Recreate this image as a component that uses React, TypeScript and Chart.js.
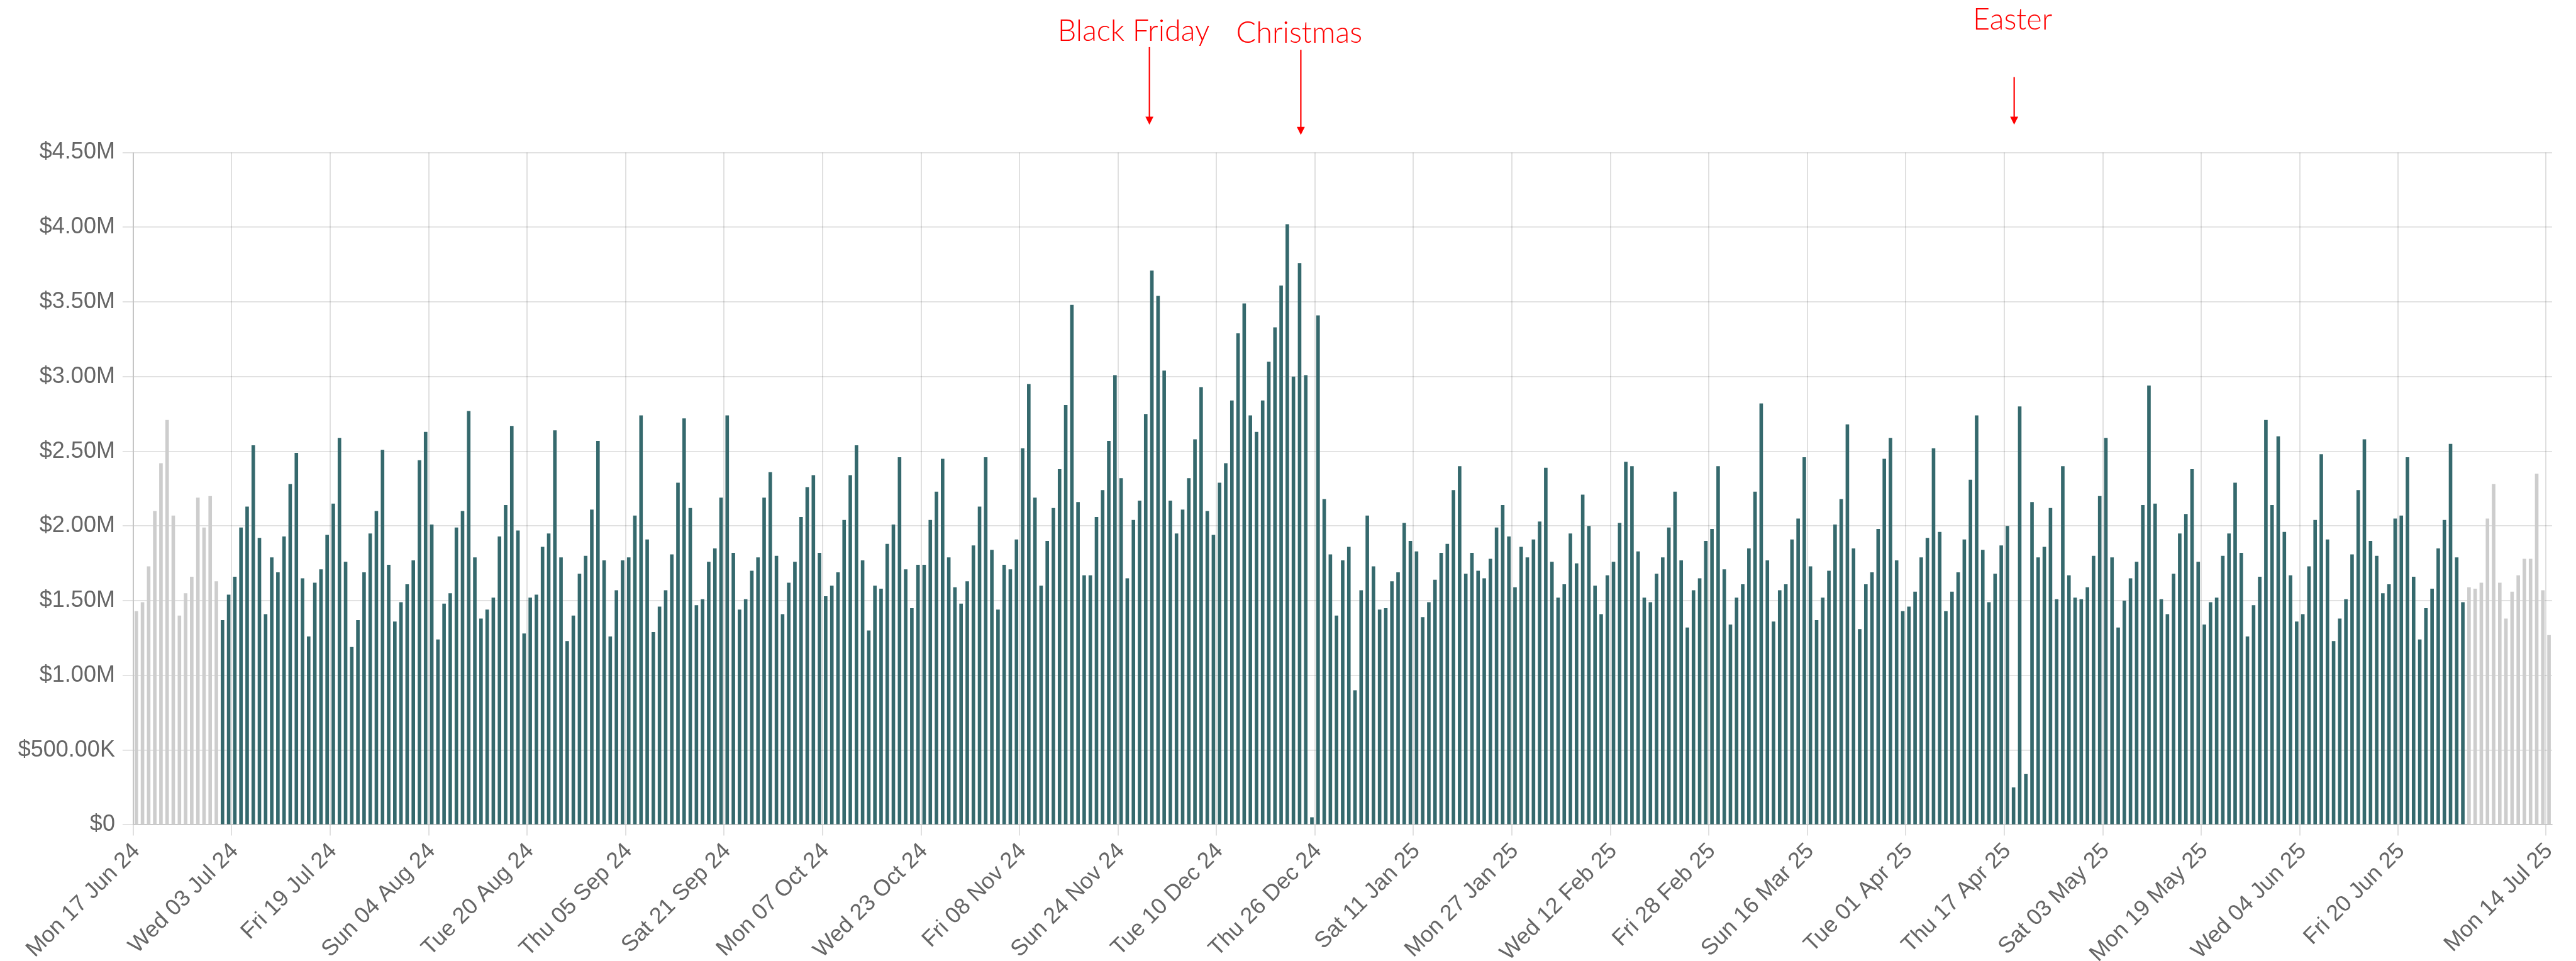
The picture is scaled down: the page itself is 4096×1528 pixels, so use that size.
import React, { useEffect, useRef } from "react";
import { Chart, registerables } from "chart.js";

Chart.register(...registerables);

const WIDTH = 4096;
const HEIGHT = 1528;
const S = 0.851;

// Daily sales in $ millions, one value per day starting Mon 17 Jun 2024 (rows = weeks Mon..Sun)
const dailySalesMillions: number[] = [
  1.43, 1.49, 1.73, 2.10, 2.42, 2.71, 2.07,
  1.40, 1.55, 1.66, 2.19, 1.99, 2.20, 1.63,
  1.37, 1.54, 1.66, 1.99, 2.13, 2.54, 1.92,
  1.41, 1.79, 1.69, 1.93, 2.28, 2.49, 1.65,
  1.26, 1.62, 1.71, 1.94, 2.15, 2.59, 1.76,
  1.19, 1.37, 1.69, 1.95, 2.10, 2.51, 1.74,
  1.36, 1.49, 1.61, 1.77, 2.44, 2.63, 2.01,
  1.24, 1.48, 1.55, 1.99, 2.10, 2.77, 1.79,
  1.38, 1.44, 1.52, 1.93, 2.14, 2.67, 1.97,
  1.28, 1.52, 1.54, 1.86, 1.95, 2.64, 1.79,
  1.23, 1.40, 1.68, 1.80, 2.11, 2.57, 1.77,
  1.26, 1.57, 1.77, 1.79, 2.07, 2.74, 1.91,
  1.29, 1.46, 1.57, 1.81, 2.29, 2.72, 2.12,
  1.47, 1.51, 1.76, 1.85, 2.19, 2.74, 1.82,
  1.44, 1.51, 1.70, 1.79, 2.19, 2.36, 1.80,
  1.41, 1.62, 1.76, 2.06, 2.26, 2.34, 1.82,
  1.53, 1.60, 1.69, 2.04, 2.34, 2.54, 1.77,
  1.30, 1.60, 1.58, 1.88, 2.01, 2.46, 1.71,
  1.45, 1.74, 1.74, 2.04, 2.23, 2.45, 1.79,
  1.59, 1.48, 1.63, 1.87, 2.13, 2.46, 1.84,
  1.44, 1.74, 1.71, 1.91, 2.52, 2.95, 2.19,
  1.60, 1.90, 2.12, 2.38, 2.81, 3.48, 2.16,
  1.67, 1.67, 2.06, 2.24, 2.57, 3.01, 2.32,
  1.65, 2.04, 2.17, 2.75, 3.71, 3.54, 3.04,
  2.17, 1.95, 2.11, 2.32, 2.58, 2.93, 2.10,
  1.94, 2.29, 2.42, 2.84, 3.29, 3.49, 2.74,
  2.63, 2.84, 3.10, 3.33, 3.61, 4.02, 3.00,
  3.76, 3.01, 0.05, 3.41, 2.18, 1.81, 1.40,
  1.77, 1.86, 0.90, 1.57, 2.07, 1.73, 1.44,
  1.45, 1.63, 1.69, 2.02, 1.90, 1.83, 1.39,
  1.49, 1.64, 1.82, 1.88, 2.24, 2.40, 1.68,
  1.82, 1.70, 1.65, 1.78, 1.99, 2.14, 1.93,
  1.59, 1.86, 1.79, 1.91, 2.03, 2.39, 1.76,
  1.52, 1.61, 1.95, 1.75, 2.21, 2.00, 1.60,
  1.41, 1.67, 1.76, 2.02, 2.43, 2.40, 1.83,
  1.52, 1.49, 1.68, 1.79, 1.99, 2.23, 1.77,
  1.32, 1.57, 1.65, 1.90, 1.98, 2.40, 1.71,
  1.34, 1.52, 1.61, 1.85, 2.23, 2.82, 1.77,
  1.36, 1.57, 1.61, 1.91, 2.05, 2.46, 1.73,
  1.37, 1.52, 1.70, 2.01, 2.18, 2.68, 1.85,
  1.31, 1.61, 1.69, 1.98, 2.45, 2.59, 1.77,
  1.43, 1.46, 1.56, 1.79, 1.92, 2.52, 1.96,
  1.43, 1.56, 1.69, 1.91, 2.31, 2.74, 1.84,
  1.49, 1.68, 1.87, 2.00, 0.25, 2.80, 0.34,
  2.16, 1.79, 1.86, 2.12, 1.51, 2.40, 1.67,
  1.52, 1.51, 1.59, 1.80, 2.20, 2.59, 1.79,
  1.32, 1.50, 1.65, 1.76, 2.14, 2.94, 2.15,
  1.51, 1.41, 1.68, 1.95, 2.08, 2.38, 1.76,
  1.34, 1.49, 1.52, 1.80, 1.95, 2.29, 1.82,
  1.26, 1.47, 1.66, 2.71, 2.14, 2.60, 1.96,
  1.67, 1.36, 1.41, 1.73, 2.04, 2.48, 1.91,
  1.23, 1.38, 1.51, 1.81, 2.24, 2.58, 1.90,
  1.80, 1.55, 1.61, 2.05, 2.07, 2.46, 1.66,
  1.24, 1.45, 1.58, 1.85, 2.04, 2.55, 1.79,
  1.49, 1.59, 1.58, 1.62, 2.05, 2.28, 1.62,
  1.38, 1.56, 1.67, 1.78, 1.78, 2.35, 1.57,
  1.27,
];

const startYear = 2024;
const startMonthIndex = 5; // June
const startDay = 17;
const weekdayNames = ["Sun", "Mon", "Tue", "Wed", "Thu", "Fri", "Sat"];
const monthNames = ["Jan", "Feb", "Mar", "Apr", "May", "Jun", "Jul", "Aug", "Sep", "Oct", "Nov", "Dec"];

// highlighted financial year (teal); the rest is grey
const periodStart = "Mon 01 Jul 24";
const periodEnd = "Mon 30 Jun 25";

const tickEvery = 16;

const yMin = 0;
const yMax = 4500000;
const yStep = 500000;

const annotationTexts = ["Black Friday", "Christmas", "Easter"];
const annotationDates = ["Fri 29 Nov 24", "Wed 25 Dec 24", "Sun 20 Apr 25"];
const annotationShiftDays = [-0.4, -1.8, -1.9];

const TEAL = "#35696d";
const GREY = "#cdcdcd";
const GRID = "rgba(0,0,0,0.12)";
const TICK_COLOR = "#666666";
const TICK_FONT = "'Liberation Sans', Arial, Helvetica, sans-serif";

const labels: string[] = dailySalesMillions.map((_, i) => {
  const d = new Date(Date.UTC(startYear, startMonthIndex, startDay + i));
  const dd = String(d.getUTCDate()).padStart(2, "0");
  const yy = String(d.getUTCFullYear()).slice(2);
  return `${weekdayNames[d.getUTCDay()]} ${dd} ${monthNames[d.getUTCMonth()]} ${yy}`;
});

const lastIndex = labels.length - 1;
const isShownTick = (i: number) =>
  i === lastIndex || (i % tickEvery === 0 && lastIndex - i >= tickEvery);

const startIdx = labels.indexOf(periodStart);
const endIdx = labels.indexOf(periodEnd);
const barColors = labels.map((_, i) => (i >= startIdx && i <= endIdx ? TEAL : GREY));

const formatMoney = (v: number) => {
  if (v === 0) return "$0";
  if (v >= 1000000) return "$" + (v / 1000000).toFixed(2) + "M";
  return "$" + (v / 1000).toFixed(2) + "K";
};

// annotation layout (output pixels)
const annotationLayout = [
  { textDx: -25, baseline: 76 * S, arrowTop: 88 * S, arrowTip: 233 * S },
  { textDx: -3 * S, baseline: 80 * S, arrowTop: 93 * S, arrowTip: 252 * S },
  { textDx: -3 * S, baseline: 55 * S, arrowTop: 144 * S, arrowTip: 233 * S },
];

const annotationPlugin = {
  id: "eventAnnotations",
  afterDraw(chart: any) {
    const ctx: CanvasRenderingContext2D = chart.ctx;
    const xs = chart.scales.x;
    const headW = 15 * S;
    const headH = 15 * S;
    ctx.save();
    ctx.fillStyle = "#ff0000";
    ctx.strokeStyle = "#ff0000";
    ctx.font = `300 ${55 * S}px Lato, 'Open Sans', sans-serif`;
    ctx.textAlign = "center";
    ctx.textBaseline = "alphabetic";
    annotationTexts.forEach((text, k) => {
      const idx = labels.indexOf(annotationDates[k]);
      const L = annotationLayout[k];
      const x = xs.getPixelForValue(idx + annotationShiftDays[k]);
      ctx.fillText(text, x + L.textDx, L.baseline);
      ctx.lineWidth = 2.2;
      ctx.beginPath();
      ctx.moveTo(x, L.arrowTop);
      ctx.lineTo(x, L.arrowTip - headH + 1);
      ctx.stroke();
      ctx.beginPath();
      ctx.moveTo(x - headW / 2, L.arrowTip - headH);
      ctx.lineTo(x + headW / 2, L.arrowTip - headH);
      ctx.lineTo(x, L.arrowTip);
      ctx.closePath();
      ctx.fill();
    });
    ctx.restore();
  },
};

const CHART_LEFT = 249 * S;
const CHART_RIGHT = 4768.5 * S;
const CHART_TOP = 285 * S;
const CHART_BOTTOM = 1541 * S;

export default function App() {
  const canvasRef = useRef<HTMLCanvasElement | null>(null);

  useEffect(() => {
    document.body.style.margin = "0";
    const canvas = canvasRef.current;
    if (!canvas) return;
    const chart = new Chart(canvas, {
      type: "bar",
      data: {
        labels,
        datasets: [
          {
            label: "Sales",
            data: dailySalesMillions.map((v) => v * 1000000),
            backgroundColor: barColors,
            borderWidth: 0,
            barPercentage: 0.72,
            categoryPercentage: 0.8,
          },
        ],
      },
      options: {
        responsive: false,
        animation: false,
        devicePixelRatio: 1,
        layout: {
          padding: { top: CHART_TOP, right: WIDTH - CHART_RIGHT, bottom: 0, left: 0 },
        },
        plugins: {
          legend: { display: false },
          tooltip: { enabled: false },
          title: { display: false },
        },
        scales: {
          x: {
            offset: true,
            grid: {
              offset: true,
              color: (c: any) => (isShownTick(c.index) ? GRID : "rgba(0,0,0,0)"),
              lineWidth: 2,
              tickLength: 17,
            },
            border: { display: true, color: GRID, width: 2 },
            ticks: {
              autoSkip: false,
              minRotation: 45,
              maxRotation: 45,
              padding: 4,
              color: TICK_COLOR,
              font: { family: TICK_FONT, size: 36 },
              callback: (_v: any, index: number) => (isShownTick(index) ? labels[index] : ""),
            },
            afterFit: (scale: any) => {
              scale.height = HEIGHT - CHART_BOTTOM;
            },
          },
          y: {
            min: yMin,
            max: yMax,
            grid: { color: GRID, lineWidth: 1.8, tickLength: 17 },
            border: { display: true, color: GRID, width: 2 },
            ticks: {
              stepSize: yStep,
              padding: 12,
              color: TICK_COLOR,
              font: { family: TICK_FONT, size: 36 },
              callback: (v: any) => formatMoney(Number(v)),
            },
            afterFit: (scale: any) => {
              scale.width = CHART_LEFT;
            },
          },
        },
      },
      plugins: [annotationPlugin],
    });
    return () => chart.destroy();
  }, []);

  return (
    <div style={{ width: WIDTH, height: HEIGHT, background: "#fff" }}>
      <canvas
        ref={canvasRef}
        width={WIDTH}
        height={HEIGHT}
        style={{ display: "block", width: WIDTH, height: HEIGHT }}
      />
    </div>
  );
}
